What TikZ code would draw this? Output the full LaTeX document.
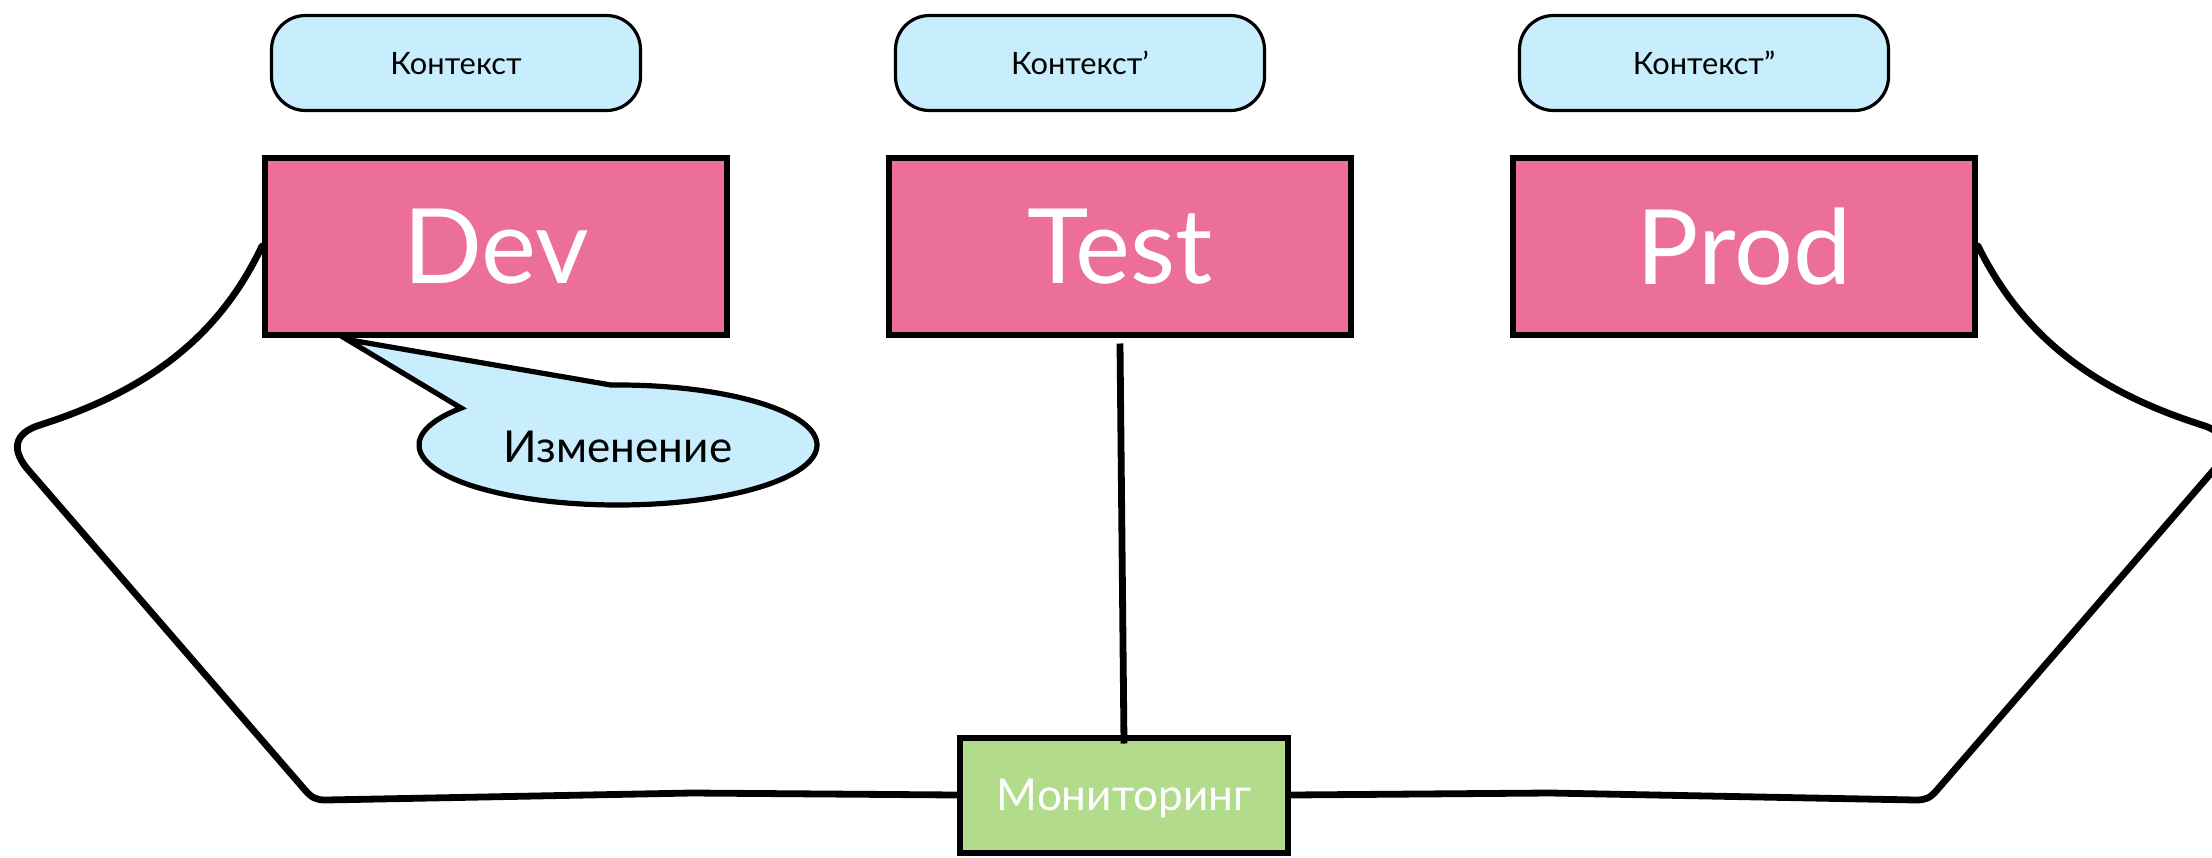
\documentclass[tikz,border=0pt]{standalone}
\usepackage{fontspec}
\setmainfont{Lato}
\usepackage{tikz}
\usetikzlibrary{calc}

\definecolor{envpink}{RGB}{236,111,155}
\definecolor{ctxblue}{RGB}{200,237,252}
\definecolor{mongreen}{RGB}{178,220,140}

\begin{document}
\begin{tikzpicture}[x=0.5pt,y=0.5pt,yscale=-1,xscale=1,
	envbox/.style={draw=black,fill=envpink,line width=3pt,minimum width=231pt,minimum height=88.5pt,inner sep=0pt,text depth=0pt,text=white,font=\fontsize{52}{60}\selectfont},
	ctxbox/.style={draw=black,fill=ctxblue,line width=1.6pt,rounded corners=17pt,minimum width=184.5pt,minimum height=47.5pt,inner sep=0pt,text depth=0pt,font=\fontsize{15.4}{18}\selectfont},
	monbox/.style={draw=black,fill=mongreen,line width=3pt,minimum width=164pt,minimum height=57.5pt,inner sep=0pt,text depth=0pt,text=white,font=\fontsize{22}{26}\selectfont},
	link/.style={line width=3.4pt,line join=round,line cap=round},
	bubble/.style={draw=black,fill=ctxblue,line width=2.6pt,line join=miter}]
	%set diagram size 2212 x 857
	\useasboundingbox (0,0) rectangle (2212,857);
	
	%Shape: Rounded Rect 
	\node[ctxbox] (ctxdev) at (456,63) {Контекст};
	%Shape: Rounded Rect 
	\node[ctxbox] (ctxtest) at (1080,63) {Контекст’};
	%Shape: Rounded Rect 
	\node[ctxbox] (ctxprod) at (1704,63) {Контекст”};
	
	%Shape: Rectangle 
	\node[envbox] (dev) at (496,246) {Dev};
	%Shape: Rectangle 
	\node[envbox] (test) at (1120,246) {Test};
	%Shape: Rectangle 
	\node[envbox] (prod) at (1744,246) {Prod};
	%Shape: Rectangle 
	\node[monbox] (mon) at (1124,795) {Мониторинг};
	
	%Shape: Callout 
	\coordinate (chgc) at (618,445);
	\draw[bubble] ($(dev.south west)+(85,2)$) -- ($(chgc)+(268:199 and 60)$) arc[start angle=268,end angle=578,x radius=199,y radius=60] -- cycle;
	% Text Node
	\node[inner sep=0pt,text depth=0pt,font=\fontsize{22}{26}\selectfont] (chg) at (618,447) {Изменение};
	
	%Straight Lines 
	\draw[link,line cap=butt] ([yshift=3pt]test.south) -- ([yshift=4.5pt]mon.north);
	%Curve Lines 
	\draw[link] (dev.west) .. controls (220,335) and (150,390) .. (40,425) .. controls (14,433) and (10,450) .. (30,472) -- (305,790) .. controls (312,798) and (316,800) .. (326,800) -- (692,793) -- (mon.west);
	%Curve Lines 
	\draw[link] (prod.east) .. controls (2022,335) and (2092,390) .. (2202,425) .. controls (2228,433) and (2232,450) .. (2212,472) -- (1937,790) .. controls (1930,798) and (1926,800) .. (1916,800) -- (1550,793) -- (mon.east);
	
\end{tikzpicture}
\end{document}
